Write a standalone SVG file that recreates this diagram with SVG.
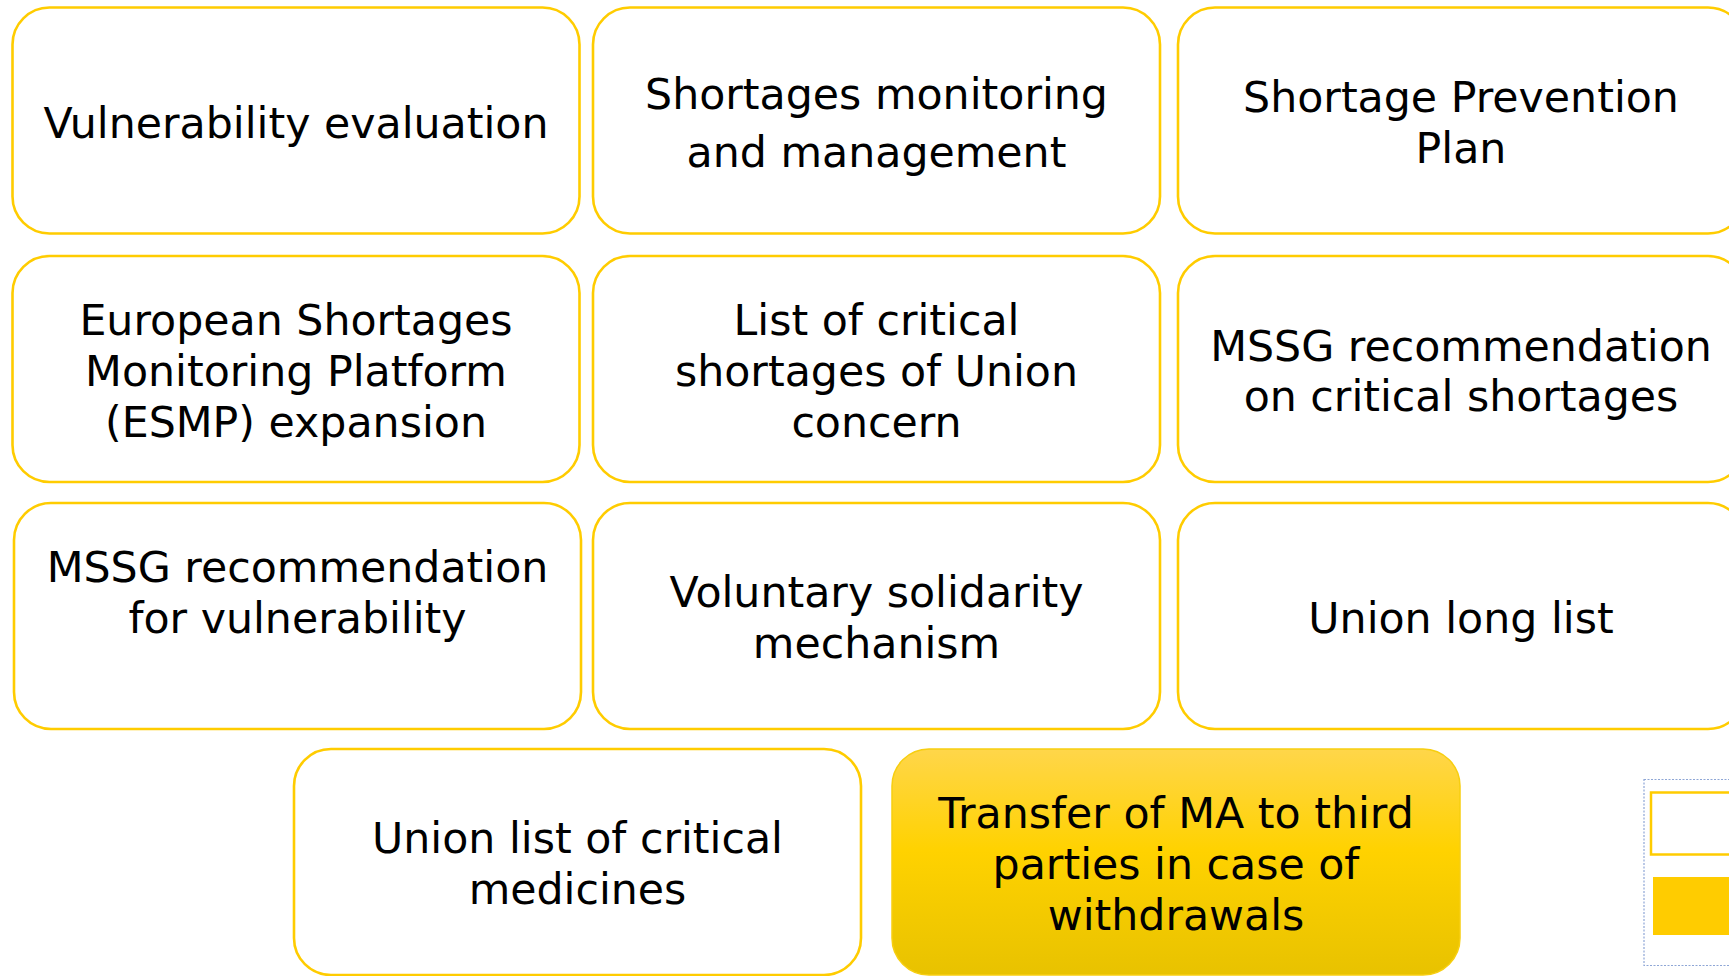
<svg xmlns="http://www.w3.org/2000/svg" width="1729" height="976" viewBox="0 0 1729 976">
<style>
.box{fill:#ffffff;stroke:#FFCC00;stroke-width:2.6}
.t{font-family:"DejaVu Sans","Verdana",sans-serif;font-size:42.7px;fill:#000000;text-anchor:middle}
</style>
<defs>
<linearGradient id="gold" x1="0" y1="0" x2="0" y2="1">
<stop offset="0" stop-color="#FFD64A"/>
<stop offset="0.45" stop-color="#FFD200"/>
<stop offset="1" stop-color="#E8C200"/>
</linearGradient>
</defs>
<rect width="1729" height="976" fill="#ffffff"/>
<g id="connectors"></g>
<g id="n1"><rect class="box" x="12.5" y="7.5" width="567" height="226" rx="37"/><text class="t" x="296" y="138">Vulnerability evaluation</text></g>
<g id="n2"><rect class="box" x="593" y="7.5" width="567" height="226" rx="37"/><text class="t" x="876.5" y="109">Shortages monitoring</text><text class="t" x="876.5" y="167">and management</text></g>
<g id="n3"><rect class="box" x="1178" y="7.5" width="567" height="226" rx="37"/><text class="t" x="1461" y="112">Shortage Prevention</text><text class="t" x="1461" y="163">Plan</text></g>
<g id="n4"><rect class="box" x="12.5" y="256" width="567" height="226" rx="37"/><text class="t" x="296" y="335">European Shortages</text><text class="t" x="296" y="386">Monitoring Platform</text><text class="t" x="296" y="437">(ESMP) expansion</text></g>
<g id="n5"><rect class="box" x="593" y="256" width="567" height="226" rx="37"/><text class="t" x="876.5" y="335">List of critical</text><text class="t" x="876.5" y="386">shortages of Union</text><text class="t" x="876.5" y="437">concern</text></g>
<g id="n6"><rect class="box" x="1178" y="256" width="567" height="226" rx="37"/><text class="t" x="1461" y="361">MSSG recommendation</text><text class="t" x="1461" y="411">on critical shortages</text></g>
<g id="n7"><rect class="box" x="14" y="503" width="567" height="226" rx="37"/><text class="t" x="297.5" y="582">MSSG recommendation</text><text class="t" x="297.5" y="633">for vulnerability</text></g>
<g id="n8"><rect class="box" x="593" y="503" width="567" height="226" rx="37"/><text class="t" x="876.5" y="607">Voluntary solidarity</text><text class="t" x="876.5" y="658">mechanism</text></g>
<g id="n9"><rect class="box" x="1178" y="503" width="567" height="226" rx="37"/><text class="t" x="1461" y="633">Union long list</text></g>
<g id="n10"><rect class="box" x="294" y="749" width="567" height="226" rx="37"/><text class="t" x="577.5" y="853">Union list of critical</text><text class="t" x="577.5" y="904">medicines</text></g>
<g id="n11"><rect x="892" y="749" width="568" height="226" rx="37" fill="url(#gold)" stroke="#F7CE10" stroke-width="1.5"/><text class="t" x="1176" y="828">Transfer of MA to third</text><text class="t" x="1176" y="879">parties in case of</text><text class="t" x="1176" y="930">withdrawals</text></g>
<g id="legend">
<rect x="1644" y="779.5" width="100" height="186" fill="none" stroke="#8EA6D6" stroke-width="1.2" stroke-dasharray="2 1.5"/>
<rect x="1651" y="792.5" width="100" height="62" fill="#ffffff" stroke="#FFCC00" stroke-width="2.5"/>
<rect x="1653" y="877" width="100" height="58" fill="#FFCC00"/>
</g>
</svg>
